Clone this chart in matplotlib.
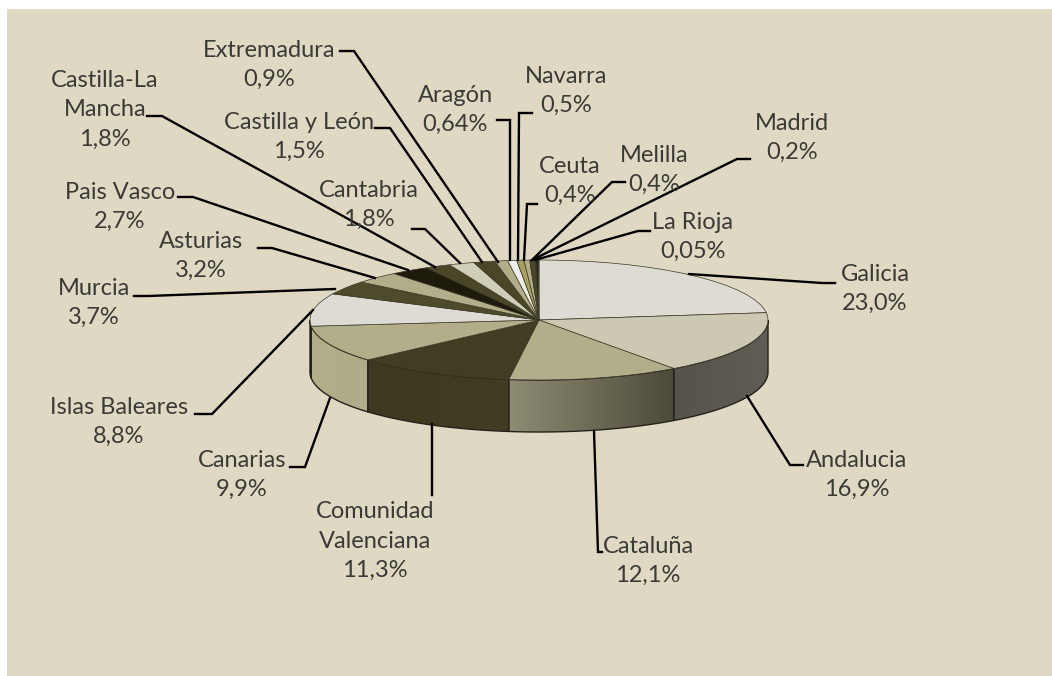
import numpy as np
import matplotlib
matplotlib.use("Agg")
import matplotlib.pyplot as plt
from matplotlib.colors import LinearSegmentedColormap
from matplotlib.lines import Line2D
from matplotlib.patches import Polygon, Rectangle
from matplotlib.transforms import Affine2D

# Share of each region, clockwise from the top
regions = ["Galicia", "Andalucia", "Cataluña", "Comunidad\nValenciana", "Canarias",
           "Islas Baleares", "Murcia", "Asturias", "Pais Vasco", "Castilla-La\nMancha",
           "Cantabria", "Castilla y León", "Extremadura", "Aragón", "Navarra",
           "Ceuta", "Melilla", "Madrid", "La Rioja"]
shares = [23.0, 16.9, 12.1, 11.3, 9.9, 8.8, 3.7, 3.2, 2.7, 1.8,
          1.8, 1.5, 0.9, 0.64, 0.5, 0.4, 0.4, 0.2, 0.05]
share_labels = ["23,0%", "16,9%", "12,1%", "11,3%", "9,9%", "8,8%", "3,7%", "3,2%", "2,7%", "1,8%",
                "1,8%", "1,5%", "0,9%", "0,64%", "0,5%", "0,4%", "0,4%", "0,2%", "0,05%"]
colors = ["#DDDBD3", "#CCC8B2", "#B3AE8A", "#423C22", "#B3AE8A", "#DDDBD3", "#4E4A2C",
          "#B3AE8A", "#1E1B0C", "#4A4628", "#D0CDB8", "#4A4628", "#B3AE8A", "#EEEEE8",
          "#A89F60", "#B3AE8A", "#4A4628", "#2A2A20", "#5C9AA0"]

# Side wall shading, left colour to right colour
walls = {0: ("#5A5850", "#5A5850"), 1: ("#55534A", "#5F5D54"), 2: ("#8F8C74", "#4C4A38"),
         3: ("#3E3820", "#423C22"), 4: ("#B3AE8A", "#B0AB88"), 5: ("#A5A183", "#B8B392")}

# Label centres and leader lines, in reference pixels
label_pos = [(875, 289), (857, 475), (648, 561), (375, 541), (242, 475),
             (119, 422), (94, 303), (201, 256), (120, 207), (105, 110),
             (369, 205), (299, 137), (269, 65), (455, 110), (566, 91),
             (570, 181), (654, 170), (792, 138), (693, 237)]
leaders = [[(689, 274), (822, 283), (835, 283)],
           [(747, 396), (790, 465), (803, 465)],
           [(594, 431), (598, 552), (602, 552)],
           [(432, 424), (432, 495)],
           [(330, 398), (305, 467), (290, 467)],
           [(313, 310), (212, 414), (195, 414)],
           [(335, 289), (148, 296), (134, 296)],
           [(375, 278), (272, 248), (258, 248)],
           [(408, 270), (193, 197), (178, 197)],
           [(435, 267), (162, 116), (147, 116)],
           [(460, 263), (425, 229), (412, 229)],
           [(482, 262), (390, 128), (375, 128)],
           [(498, 262), (354, 51), (340, 51)],
           [(510, 260), (510, 120), (497, 120)],
           [(518, 260), (519, 113), (532, 113)],
           [(524, 260), (527, 204), (537, 204)],
           [(532, 260), (612, 182), (625, 182)],
           [(532, 260), (737, 159), (750, 159)],
           [(535, 260), (638, 231), (650, 231)]]

W, H = 1052, 676
cx, cy, rx, ry, depth = 539, 320, 229, 60, 52

plt.rcParams["font.family"] = ["Lato", "DejaVu Sans"]
fig = plt.figure(figsize=(W / 100, H / 100), dpi=100, facecolor="white")
px = Affine2D().scale(1, -1).translate(0, H)
fig.add_artist(Rectangle((7, 9), W - 7, H - 9, transform=px, facecolor="#DFD9C3", edgecolor="none", zorder=-1))

# One data unit is rx wide and ry high, which squashes the pie into an ellipse
ax = fig.add_axes([0, 0, 1, 1])
ax.patch.set_alpha(0)
ax.pie(shares, colors=colors, startangle=90, counterclock=False, radius=1, center=(0, 0),
       wedgeprops={"edgecolor": "#3A3826", "linewidth": 0.5, "zorder": 3})
ax.set_aspect("auto")
xlim = (-cx / rx, (W - cx) / rx)
ylim = ((cy - H) / ry, cy / ry)
ax.set_xlim(xlim)
ax.set_ylim(ylim)
ax.axis("off")

# Side walls from the same shares, only the part of each slice on the front half
d = depth / ry
edges = np.cumsum([0] + shares) / sum(shares) * 2 * np.pi
for i, (a, b) in enumerate(zip(edges[:-1], edges[1:])):
    a, b = max(a, np.pi / 2), min(b, 3 * np.pi / 2)
    if a >= b:
        continue
    t = np.linspace(a, b, 60)
    x, y = np.sin(t), np.cos(t)
    pts = np.r_[np.c_[x, y], np.c_[x[::-1], y[::-1] - d]]
    left, right = walls[i]
    x0, x1 = min(x), max(x)
    poly = Polygon(pts, closed=True, facecolor="none", edgecolor="#24221A", linewidth=1.0, zorder=2)
    ax.add_patch(poly)
    cmap = LinearSegmentedColormap.from_list("wall", [left, right])
    im = ax.imshow(np.linspace(0, 1, 128).reshape(1, -1), cmap=cmap, aspect="auto", zorder=1,
                   extent=(x0, x1, (y - d).min(), y.max()))
    im.set_clip_path(poly)
ax.set_xlim(xlim)
ax.set_ylim(ylim)

for path in leaders:
    xs, ys = zip(*path)
    fig.add_artist(Line2D(xs, ys, transform=px, color="black", linewidth=1.7, solid_joinstyle="miter"))

for name, share, (lx, ly) in zip(regions, share_labels, label_pos):
    fig.text(lx, ly, name + "\n" + share, transform=px, ha="center", va="center",
             fontsize=17, color="#3A3A36", linespacing=1.5, zorder=5)

fig.savefig("out.png", dpi=100, facecolor="white")
